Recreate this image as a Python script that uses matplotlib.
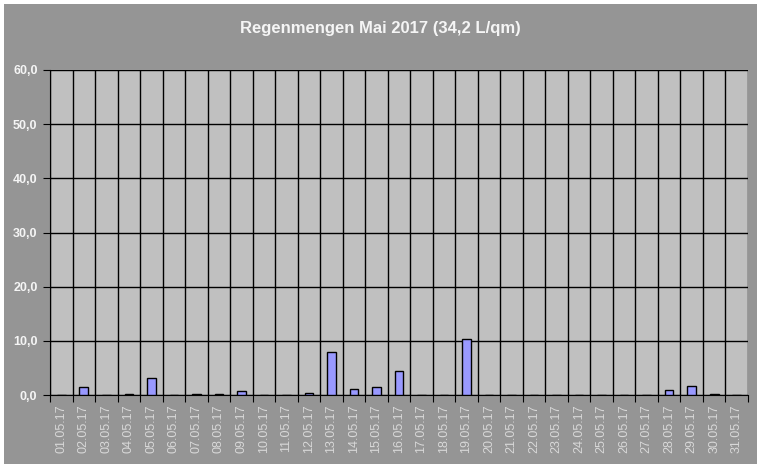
import matplotlib
matplotlib.use("Agg")
import matplotlib.pyplot as plt
from matplotlib.patches import Rectangle
import numpy as np

# daily rainfall, May 2017 (L/qm)
days = [f"{d:02d}.05.17" for d in range(1, 32)]
rain = [0.0, 1.4, 0.0, 0.2, 3.2, 0.0, 0.1, 0.1, 0.8, 0.0,
        0.0, 0.4, 7.9, 1.2, 1.4, 4.5, 0.0, 0.0, 10.3, 0.0,
        0.0, 0.0, 0.0, 0.0, 0.0, 0.0, 0.0, 0.9, 1.7, 0.2, 0.0]
y_ticks = [0, 10, 20, 30, 40, 50, 60]

plt.rcParams['font.family'] = ['Liberation Sans', 'DejaVu Sans']

fig = plt.figure(figsize=(7.6, 4.68), dpi=100, facecolor='white')
# gray chart area with a thin white margin
fig.patches.append(Rectangle((4 / 760, 4 / 468), 753 / 760, 460 / 468,
                             transform=fig.transFigure, facecolor='#959595',
                             edgecolor='none', zorder=-5))

ax = fig.add_axes([50 / 760, 1 - 395 / 468, 698 / 760, 325 / 468])
ax.set_facecolor('#c0c0c0')

x = np.arange(len(days))
ax.bar(x, rain, width=0.38, color='#9999ff', edgecolor='black', linewidth=1, zorder=3)

ax.set_xlim(-0.5, len(days) - 0.5)
ax.set_ylim(0, 60)

# horizontal grid at y ticks, vertical grid at category borders
ax.set_yticks(y_ticks)
ax.set_yticklabels([f"{v:.1f}".replace('.', ',') for v in y_ticks],
                   color='#f5f5f5', fontsize=9, fontweight='bold')
ax.yaxis.grid(True, color='black', linewidth=1, zorder=1)
for b in np.arange(-0.5, len(days)):
    ax.axvline(b, color='black', linewidth=1, zorder=1)

ax.set_xticks(np.arange(-0.5, len(days)), minor=False)
ax.set_xticklabels([])
ax.set_xticks(x, minor=True)
ax.set_xticklabels(days, minor=True, rotation=90, color='#d8d8d8', fontsize=9)
ax.tick_params(axis='x', which='minor', length=0, pad=7)
ax.tick_params(axis='x', which='major', length=5, color='black', direction='out')
ax.tick_params(axis='y', length=5, color='black', direction='out', pad=4)

for side in ['top', 'right']:
    ax.spines[side].set_visible(False)
ax.spines['left'].set_color('black')
ax.spines['bottom'].set_color('black')

fig.text(380 / 760, 1 - 28 / 468, "Regenmengen Mai 2017 (34,2 L/qm)",
         ha='center', va='center', fontsize=12, fontweight='bold', color='#f5f5f5')

fig.savefig("out.png", dpi=100, facecolor=fig.get_facecolor())
